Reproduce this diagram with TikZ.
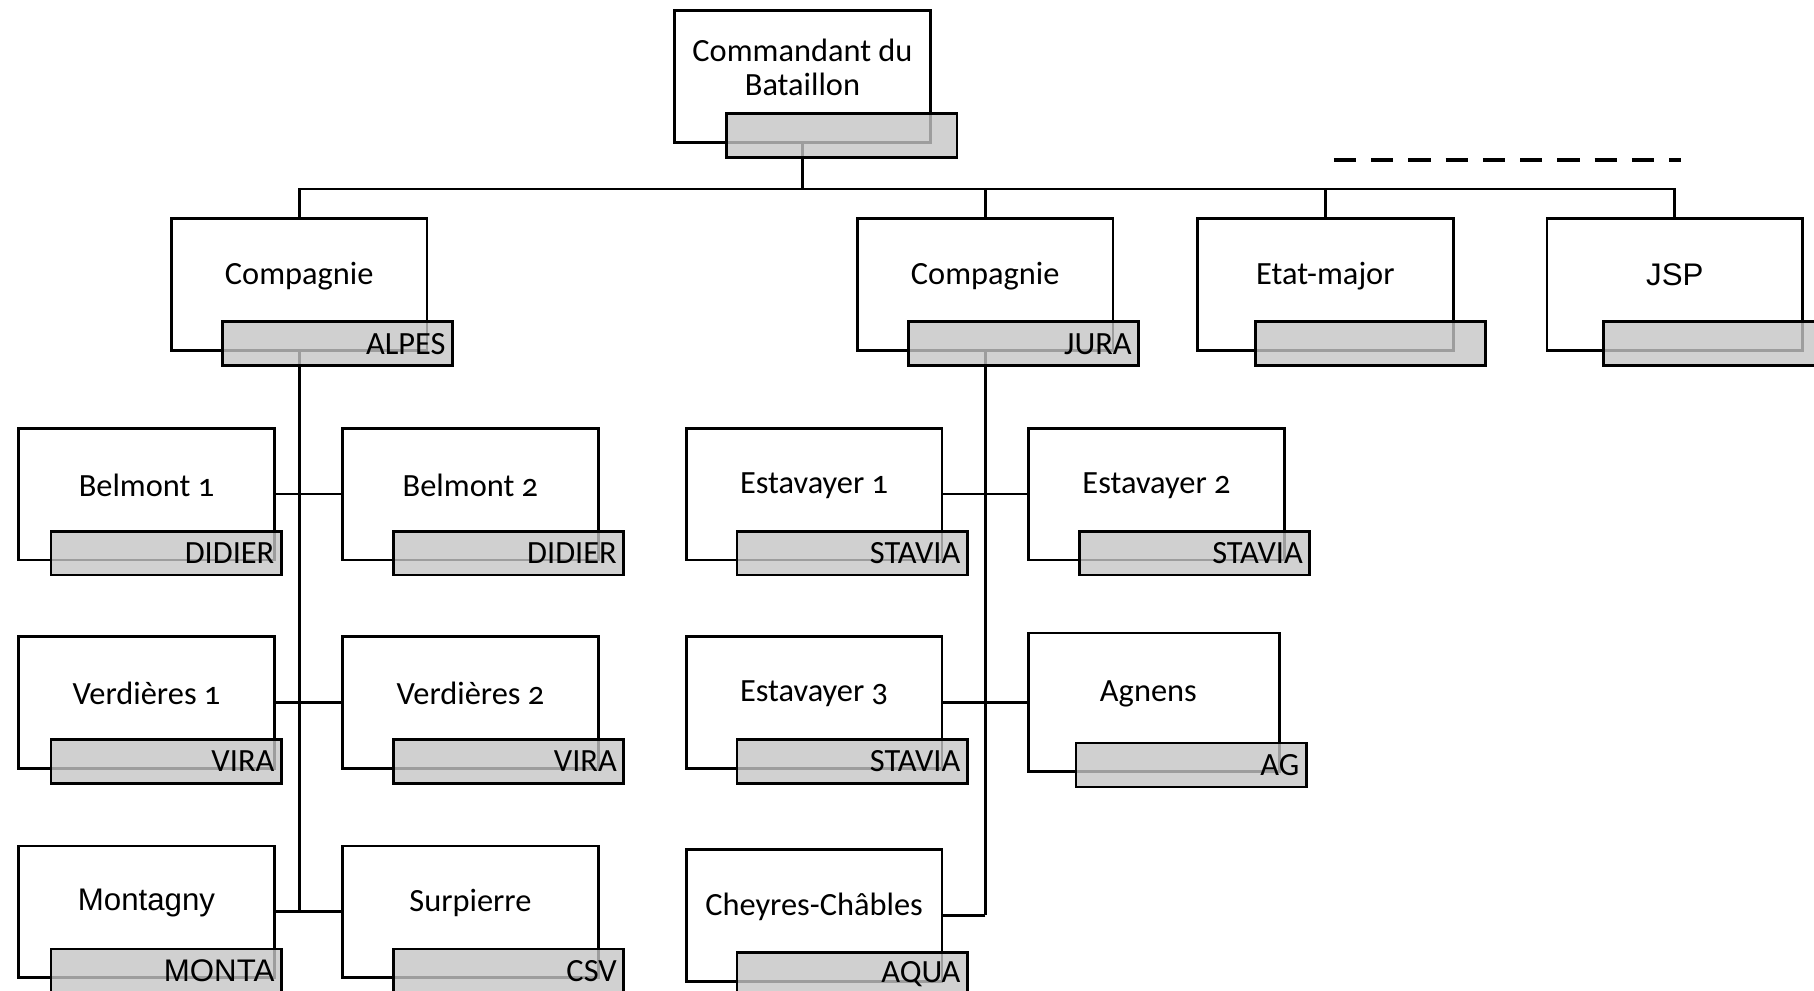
\documentclass[tikz,border=0pt]{standalone}
\usepackage{fontspec}
\setmainfont{Carlito}[Numbers=OldStyle]
\newfontfamily\arialf{Liberation Sans}
\usetikzlibrary{backgrounds}
\definecolor{grayfill}{RGB}{197,197,197}
\tikzset{
  wbox/.style={draw, line width=2.3pt, fill=white, minimum width=221pt, minimum height=114pt, anchor=north west, inner sep=0pt},
  gbox/.style={draw, line width=2.3pt, fill=grayfill, fill opacity=0.8, text opacity=1, minimum height=38pt, inner xsep=6pt, inner ysep=0pt, text width=187pt, align=right, anchor=north west, font=\fontsize{28}{30}\selectfont},
  txt/.style={inner sep=0pt, align=center, font=\fontsize{28}{30}\selectfont},
  atxt/.style={inner sep=0pt, align=center, font=\arialf\fontsize{27}{30}\selectfont},
  conn/.style={line width=2.3pt},
  trunk/.style={line width=2.9pt},
  dashline/.style={line width=3.5pt, dash pattern=on 19.2pt off 13pt}
}
\begin{document}
\begin{tikzpicture}[x=1pt,y=-1pt]
\useasboundingbox (0,0) rectangle (1568,856);
% white boxes
\node[wbox] (cmd) at (582,8) {};
\node[wbox] (alpes) at (147,188) {};
\node[wbox] (jura) at (740,188) {};
\node[wbox] (etat) at (1034,188) {};
\node[wbox] (jsp) at (1336,188) {};
\node[wbox] (b1) at (15,369) {};
\node[wbox] (b2) at (295,369) {};
\node[wbox] (v1) at (15,549) {};
\node[wbox] (v2) at (295,549) {};
\node[wbox] (mon) at (15,730) {};
\node[wbox] (sur) at (295,730) {};
\node[wbox] (e1) at (592,369) {};
\node[wbox] (e2) at (888,369) {};
\node[wbox] (e3) at (592,549) {};
\node[wbox, minimum width=217pt, minimum height=120pt] (ag) at (888,546) {};
\node[wbox] (ch) at (592,733) {};
% gray boxes
\node[gbox] (cmdg) at (627,97) {};
\node[gbox] (alpesg) at (191,277) {ALPES};
\node[gbox] (jurag) at (784,277) {JURA};
\node[gbox] (etatg) at (1084,277) {};
\node[gbox] (jspg) at (1385,277) {};
\node[gbox] (b1g) at (43,458) {DIDIER};
\node[gbox] (b2g) at (339,458) {DIDIER};
\node[gbox] (v1g) at (43,638) {VIRA};
\node[gbox] (v2g) at (339,638) {VIRA};
\node[gbox, font=\arialf\fontsize{27}{30}\selectfont] (mong) at (43,819) {MONTA};
\node[gbox] (surg) at (339,819) {CSV};
\node[gbox] (e1g) at (636,458) {STAVIA};
\node[gbox] (e2g) at (932,458) {STAVIA};
\node[gbox] (e3g) at (636,638) {STAVIA};
\node[gbox] (agg) at (929,641) {AG};
\node[gbox] (chg) at (636,822) {AQUA};
% texts
\node[txt] (cmdt) at ([yshift=8pt]cmd.center) {Commandant du\\Bataillon};
\node[txt] (alpest) at ([yshift=7.5pt]alpes.center) {Compagnie};
\node[txt] (jurat) at ([yshift=7.5pt]jura.center) {Compagnie};
\node[txt] (etatt) at ([yshift=7.5pt]etat.center) {Etat-major};
\node[atxt] (jspt) at ([yshift=9pt]jsp.center) {JSP};
\node[txt] (b1t) at ([yshift=7.5pt]b1.center) {Belmont 1};
\node[txt] (b2t) at ([yshift=7.5pt]b2.center) {Belmont 2};
\node[txt] (v1t) at ([yshift=7.5pt]v1.center) {Verdières 1};
\node[txt] (v2t) at ([yshift=7.5pt]v2.center) {Verdières 2};
\node[atxt] (mont) at ([yshift=7.5pt]mon.center) {Montagny};
\node[txt] (surt) at ([yshift=7.5pt]sur.center) {Surpierre};
\node[txt] (e1t) at ([yshift=7.5pt]e1.center) {Estavayer 1};
\node[txt] (e2t) at ([yshift=7.5pt]e2.center) {Estavayer 2};
\node[txt] (e3t) at ([yshift=7.5pt]e3.center) {Estavayer 3};
\node[txt] (agt) at ([xshift=-5pt,yshift=7.5pt]ag.center) {Agnens};
\node[txt] (cht) at ([yshift=7.5pt]ch.center) {Cheyres-Châbles};
% dashed line
\coordinate (dA) at (1153,138);
\coordinate (dB) at (1453,138);
\draw[dashline] (dA) -- (dB);
% connectors
\begin{pgfonlayer}{background}
\draw[trunk] (cmd.south) -- ++(0,39) coordinate (bus);
\draw[conn] (alpes.north) -- (alpes.north |- bus) -- (jsp.north |- bus) -- (jsp.north);
\draw[conn] (jura.north) -- (jura.north |- bus);
\draw[conn] (etat.north) -- (etat.north |- bus);
\draw[trunk] (alpes.south) -- (alpes.south |- mon.east);
\draw[conn] (b1.east) -- (b2.west);
\draw[conn] (v1.east) -- (v2.west);
\draw[conn] (mon.east) -- (sur.west);
\draw[trunk] (jura.south) -- (jura.south |- ch.east);
\draw[conn] (jura.south |- ch.east) -- (ch.east);
\draw[conn] (e1.east) -- (e2.west);
\draw[conn] (e3.east) -- (ag.west);
\end{pgfonlayer}
\end{tikzpicture}
\end{document}
